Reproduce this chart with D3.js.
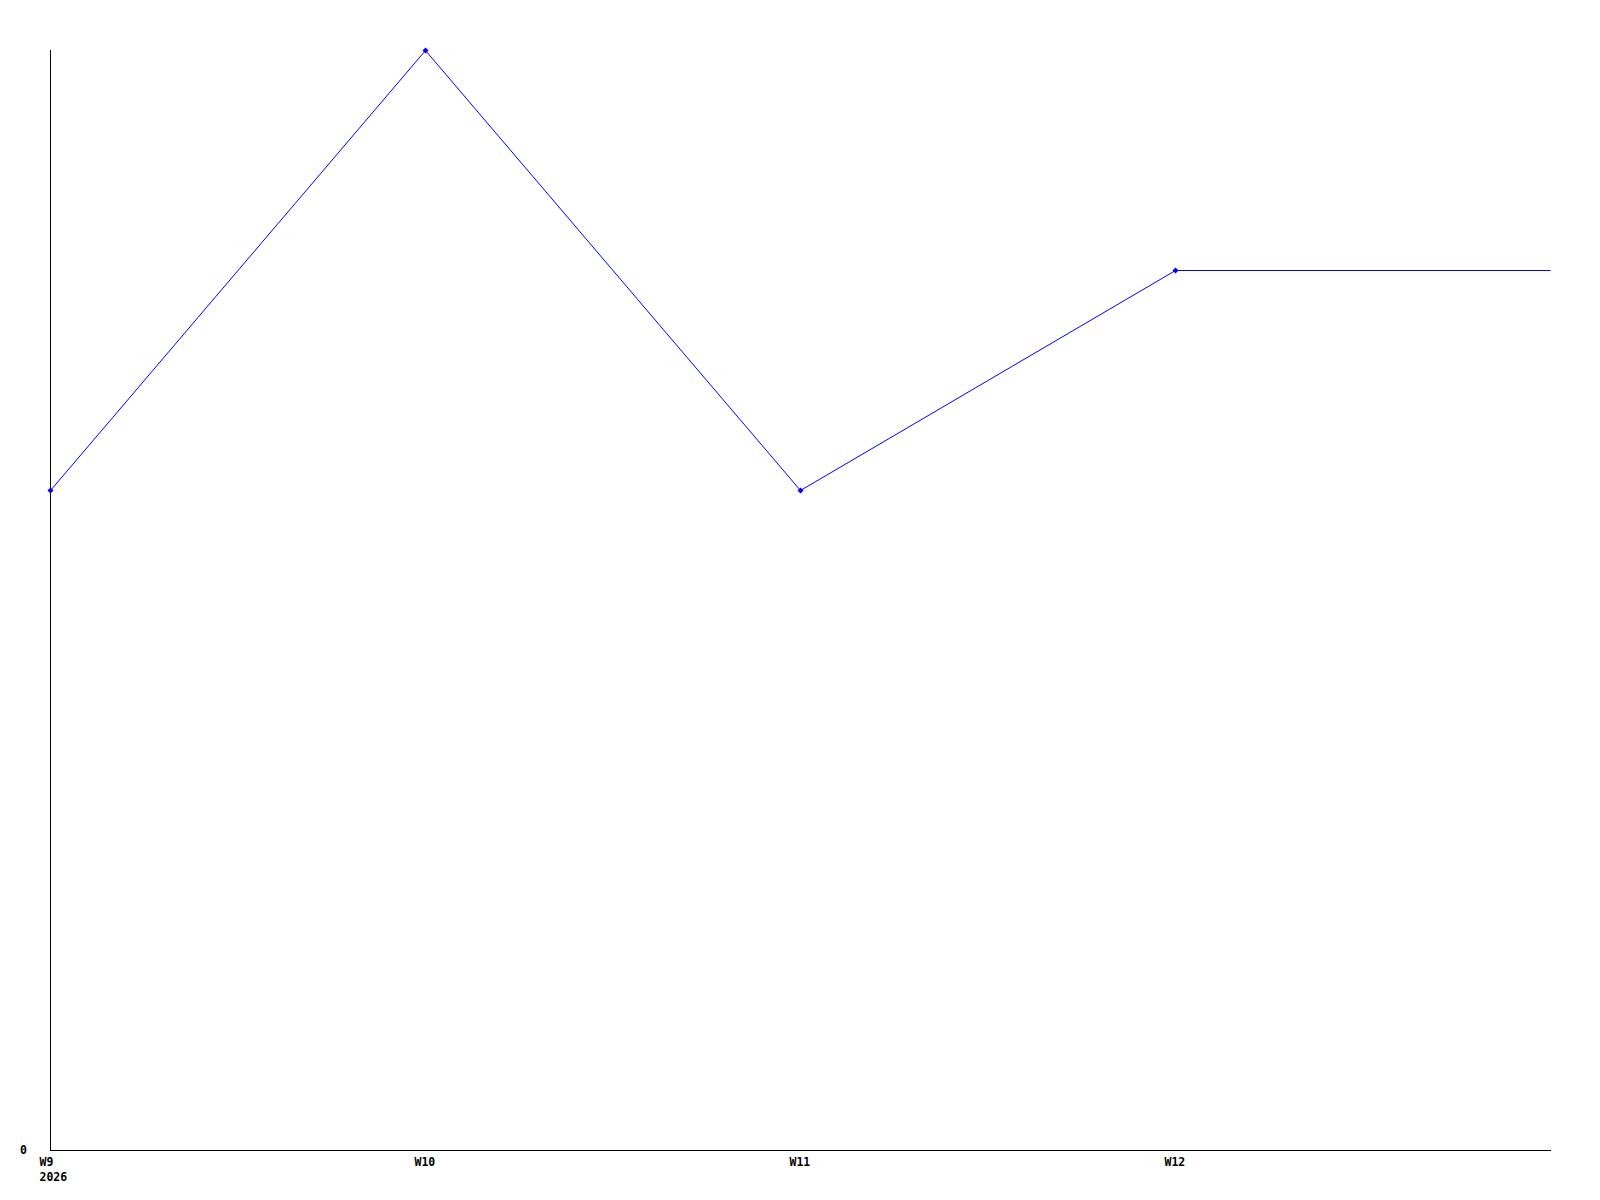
<!DOCTYPE html>
<html><head><meta charset="utf-8">
<script src="https://cdn.jsdelivr.net/npm/d3@7"></script>
<style>body{margin:0;background:#fff}svg{display:block}</style>
</head><body>
<script>
const weeks = ["W9", "W10", "W11", "W12", "W13"];
const tickLabels = ["W9", "W10", "W11", "W12", ""];
const yearLabel = "2026";
const values = [3, 5, 3, 4, 4];
const markerShown = [true, true, true, true, false];
const yMax = 5;

const W = 1600, H = 1200;
const m = {left: 50, right: 50, top: 50, bottom: 50};
const svg = d3.select("body").append("svg").attr("width", W).attr("height", H);

const x = d3.scalePoint().domain(weeks).range([m.left + 0.5, W - m.right + 0.5]);
const y = d3.scaleLinear().domain([0, yMax]).range([H - m.bottom, m.top]);

const font = "'DejaVu Sans Mono', monospace";
const fs = 11.5;

// axes lines
svg.append("line").attr("x1", m.left + 0.5).attr("x2", m.left + 0.5)
  .attr("y1", y(yMax)).attr("y2", y(0)).attr("stroke", "#000");
svg.append("line").attr("x1", m.left).attr("x2", W - m.right + 1)
  .attr("y1", y(0) + 0.5).attr("y2", y(0) + 0.5).attr("stroke", "#000");

// y label 0
svg.append("text").attr("x", 20).attr("y", y(0) + 4)
  .attr("font-family", font).attr("font-weight", "bold").attr("font-size", fs)
  .text("0");

// x labels
weeks.forEach((w, i) => {
  if (!tickLabels[i]) return;
  svg.append("text").attr("x", x(w) - 11).attr("y", y(0) + 16)
    .attr("font-family", font).attr("font-weight", "bold").attr("font-size", fs)
    .text(tickLabels[i]);
});
svg.append("text").attr("x", x(weeks[0]) - 11).attr("y", y(0) + 31)
  .attr("font-family", font).attr("font-weight", "bold").attr("font-size", fs)
  .text(yearLabel);

// line
const line = d3.line().x((d, i) => x(weeks[i])).y(d => y(d) + 0.5);
svg.append("path").datum(values).attr("d", line)
  .attr("fill", "none").attr("stroke", "#0000ff").attr("stroke-width", 1);

// markers
svg.selectAll(".mk").data(values.map((v, i) => ({v, i})).filter(d => markerShown[d.i]))
  .enter().append("path")
  .attr("transform", d => `translate(${x(weeks[d.i])},${y(d.v) + 0.5})`)
  .attr("d", "M0,-3L3,0L0,3L-3,0Z")
  .attr("fill", "#0000ff");
</script>
</body></html>
